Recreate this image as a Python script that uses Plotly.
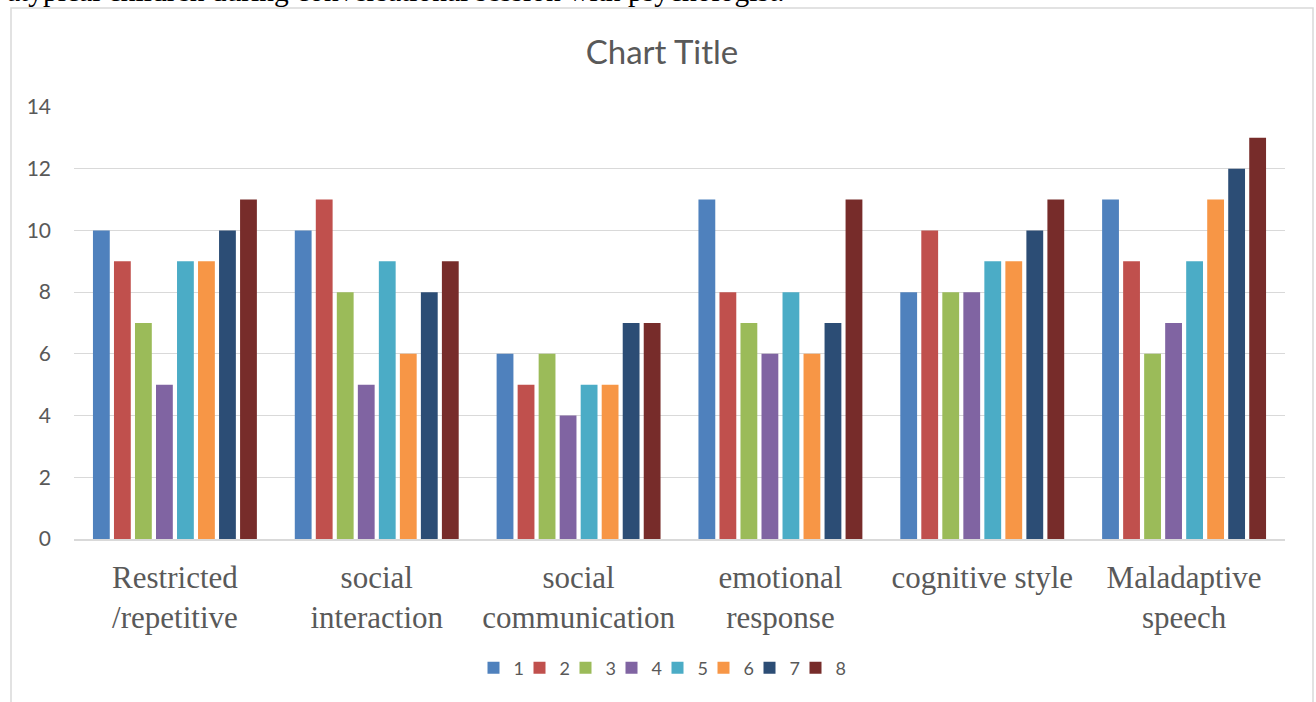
import plotly.graph_objects as go

categories = ["Restricted<br>/repetitive", "social<br>interaction", "social<br>communication",
              "emotional<br>response", "cognitive style", "Maladaptive<br>speech"]
series_names = ["1", "2", "3", "4", "5", "6", "7", "8"]
s1 = [10, 10, 6, 11, 8, 11]
s2 = [9, 11, 5, 8, 10, 9]
s3 = [7, 8, 6, 7, 8, 6]
s4 = [5, 5, 4, 6, 8, 7]
s5 = [9, 9, 5, 8, 9, 9]
s6 = [9, 6, 5, 6, 9, 11]
s7 = [10, 8, 7, 7, 10, 12]
s8 = [11, 9, 7, 11, 11, 13]
series_values = [s1, s2, s3, s4, s5, s6, s7, s8]
y_ticks = [0, 2, 4, 6, 8, 10, 12, 14]
colors = ["#4F81BD", "#C0504D", "#9BBB59", "#8064A2", "#4BACC6", "#F79646", "#2C4D75", "#772C2A"]

W, H = 1316, 702
L, R, T, B = 74, 31, 107, 163
pw = W - L - R
ph = H - T - B

def px_x(p):
    return (p - L) / pw

def px_y(p):
    return (H - B - p) / ph

fig = go.Figure()
n = len(series_names)
for i, (name, vals, col) in enumerate(zip(series_names, series_values, colors)):
    fig.add_trace(go.Bar(x=categories, y=vals, name=name,
                         legendwidth=(16 if i == n - 1 else 1),
                         marker=dict(color=col, line=dict(width=0))))

grey = "#595959"
fig.update_layout(
    width=W, height=H,
    margin=dict(l=L, r=R, t=T, b=B),
    paper_bgcolor="white", plot_bgcolor="white",
    barmode="group", bargap=0.167, bargroupgap=0.2,
    font=dict(family="Lato, Calibri, sans-serif", color=grey),
    title=dict(text="Chart Title", x=px_x(662), xref="paper", xanchor="center",
               y=1 - 52 / H, yref="container", yanchor="middle",
               font=dict(size=33, color=grey, family="Lato, Calibri, sans-serif")),
    showlegend=True,
    legend=dict(orientation="h", x=px_x(665), xanchor="center",
                y=px_y(668), yanchor="middle", entrywidth=1, entrywidthmode="pixels",
                font=dict(size=18, color=grey), traceorder="normal"),
    xaxis=dict(showgrid=False, showline=True, linecolor="#d9d9d9", linewidth=1.5,
               ticks="", ticklabelstandoff=10,
               tickfont=dict(family="Liberation Serif, Times New Roman, serif", size=31, color=grey)),
    yaxis=dict(range=[0, 14], tickvals=y_ticks, showgrid=True, gridcolor="#d9d9d9", gridwidth=1.3,
               zeroline=False, showline=False, ticks="", ticklabelstandoff=22,
               tickfont=dict(size=21, color=grey)),
)

# outer chart frame
fig.add_shape(type="rect", xref="paper", yref="paper",
              x0=px_x(11), x1=px_x(1313), y0=px_y(760), y1=px_y(8),
              line=dict(color="#d9d9d9", width=1.5), fillcolor="rgba(0,0,0,0)", layer="below")

# cropped document text above the chart
fig.add_annotation(text="atypical children during conversational session with psychologist.",
                   xref="paper", yref="paper", x=px_x(5), y=px_y(9),
                   xanchor="left", yanchor="bottom", showarrow=False,
                   font=dict(family="Liberation Serif, Times New Roman, serif", size=29.5, color="black"))

fig.write_html("out.html")
